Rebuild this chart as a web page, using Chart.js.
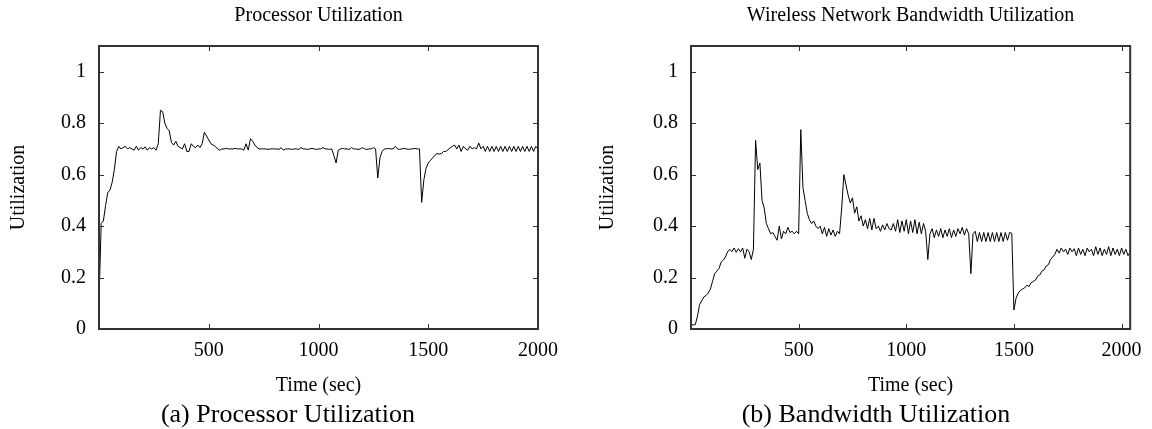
<!DOCTYPE html>
<html>
<head>
<meta charset="utf-8">
<title>Processor and Bandwidth Utilization</title>
<script src="https://cdn.jsdelivr.net/npm/chart.js@4.4.1/dist/chart.umd.min.js"></script>
<style>
  html, body { margin: 0; padding: 0; background: #fff; overflow: hidden; }
  #figure { position: relative; width: 1152px; height: 429px; font-family: 'Liberation Serif', 'Times New Roman', serif; }
  canvas { position: absolute; top: 0; }
  #cpuChart { left: 0; }
  #bwChart { left: 576px; }
  .caption { position: absolute; top: 399px; width: 400px; margin-left: -200px; text-align: center; font-size: 26px; line-height: 30px; color: #000; white-space: nowrap; }
</style>
</head>
<body>
<div id="figure">
  <canvas id="cpuChart" width="576" height="429"></canvas>
  <canvas id="bwChart" width="576" height="429"></canvas>
  <div class="caption" style="left:288px">(a) Processor Utilization</div>
  <div class="caption" style="left:876px">(b) Bandwidth Utilization</div>
</div>
<script>
const timeTicks = [0, 500, 1000, 1500, 2000];
const utilTicks = [0, 0.2, 0.4, 0.6, 0.8, 1];

const cpuTime = [
  0, 10, 20, 30, 40, 50, 60, 70, 80, 90,
  100, 110, 120, 130, 140, 150, 160, 170, 180, 190,
  200, 210, 220, 230, 240, 250, 260, 270, 280, 290,
  300, 310, 320, 330, 340, 350, 360, 370, 380, 390,
  400, 410, 420, 430, 440, 450, 460, 470, 480, 490,
  500, 510, 520, 530, 540, 550, 560, 570, 580, 590,
  600, 610, 620, 630, 640, 650, 660, 670, 680, 690,
  700, 710, 720, 730, 740, 750, 760, 770, 780, 790,
  800, 810, 820, 830, 840, 850, 860, 870, 880, 890,
  900, 910, 920, 930, 940, 950, 960, 970, 980, 990,
  1000, 1010, 1020, 1030, 1040, 1050, 1060, 1070, 1080, 1090,
  1100, 1110, 1120, 1130, 1140, 1150, 1160, 1170, 1180, 1190,
  1200, 1210, 1220, 1230, 1240, 1250, 1260, 1270, 1280, 1290,
  1300, 1310, 1320, 1330, 1340, 1350, 1360, 1370, 1380, 1390,
  1400, 1410, 1420, 1430, 1440, 1450, 1460, 1470, 1480, 1490,
  1500, 1510, 1520, 1530, 1540, 1550, 1560, 1570, 1580, 1590,
  1600, 1610, 1620, 1630, 1640, 1650, 1660, 1670, 1680, 1690,
  1700, 1710, 1720, 1730, 1740, 1750, 1760, 1770, 1780, 1790,
  1800, 1810, 1820, 1830, 1840, 1850, 1860, 1870, 1880, 1890,
  1900, 1910, 1920, 1930, 1940, 1950, 1960, 1970, 1980, 1990,
  2000
];
const cpuUtil = [
  0.11, 0.41, 0.42, 0.48, 0.53, 0.54, 0.57, 0.62, 0.69, 0.71,
  0.70, 0.705, 0.71, 0.70, 0.705, 0.70, 0.695, 0.71, 0.695, 0.705,
  0.70, 0.708, 0.695, 0.705, 0.70, 0.705, 0.695, 0.72, 0.85, 0.845,
  0.80, 0.78, 0.77, 0.725, 0.715, 0.73, 0.71, 0.705, 0.70, 0.72,
  0.69, 0.69, 0.72, 0.71, 0.705, 0.715, 0.705, 0.72, 0.765, 0.75,
  0.735, 0.72, 0.715, 0.71, 0.70, 0.695, 0.70, 0.70, 0.702, 0.70,
  0.70, 0.70, 0.702, 0.70, 0.70, 0.70, 0.695, 0.72, 0.695, 0.74,
  0.73, 0.715, 0.705, 0.70, 0.70, 0.70, 0.70, 0.698, 0.70, 0.70,
  0.70, 0.70, 0.698, 0.705, 0.695, 0.70, 0.70, 0.70, 0.698, 0.70,
  0.70, 0.698, 0.705, 0.70, 0.70, 0.698, 0.70, 0.702, 0.70, 0.698,
  0.70, 0.70, 0.705, 0.70, 0.70, 0.698, 0.70, 0.675, 0.645, 0.695,
  0.70, 0.702, 0.70, 0.70, 0.698, 0.705, 0.70, 0.70, 0.698, 0.70,
  0.705, 0.70, 0.698, 0.70, 0.70, 0.705, 0.70, 0.587, 0.665, 0.69,
  0.70, 0.70, 0.702, 0.70, 0.70, 0.71, 0.70, 0.698, 0.70, 0.702,
  0.70, 0.698, 0.70, 0.70, 0.702, 0.70, 0.70, 0.492, 0.58, 0.625,
  0.645, 0.655, 0.665, 0.675, 0.682, 0.68, 0.682, 0.69, 0.69, 0.697,
  0.705, 0.71, 0.715, 0.70, 0.715, 0.69, 0.71, 0.70, 0.695, 0.71,
  0.70, 0.705, 0.70, 0.723, 0.70, 0.71, 0.69, 0.71, 0.69, 0.71,
  0.69, 0.71, 0.69, 0.71, 0.69, 0.71, 0.69, 0.71, 0.69, 0.71,
  0.69, 0.71, 0.69, 0.71, 0.69, 0.71, 0.69, 0.71, 0.69, 0.71,
  0.70
];

const bwTime = [
  0, 10, 20, 30, 40, 50, 60, 70, 80, 90,
  100, 110, 120, 130, 140, 150, 160, 170, 180, 190,
  200, 210, 220, 230, 240, 250, 260, 270, 280, 290,
  300, 310, 320, 330, 340, 350, 360, 370, 380, 390,
  400, 410, 420, 430, 440, 450, 460, 470, 480, 490,
  500, 510, 520, 530, 540, 550, 560, 570, 580, 590,
  600, 610, 620, 630, 640, 650, 660, 670, 680, 690,
  700, 710, 720, 730, 740, 750, 760, 770, 780, 790,
  800, 810, 820, 830, 840, 850, 860, 870, 880, 890,
  900, 910, 920, 930, 940, 950, 960, 970, 980, 990,
  1000, 1010, 1020, 1030, 1040, 1050, 1060, 1070, 1080, 1090,
  1100, 1110, 1120, 1130, 1140, 1150, 1160, 1170, 1180, 1190,
  1200, 1210, 1220, 1230, 1240, 1250, 1260, 1270, 1280, 1290,
  1300, 1310, 1320, 1330, 1340, 1350, 1360, 1370, 1380, 1390,
  1400, 1410, 1420, 1430, 1440, 1450, 1460, 1470, 1480, 1490,
  1500, 1510, 1520, 1530, 1540, 1550, 1560, 1570, 1580, 1590,
  1600, 1610, 1620, 1630, 1640, 1650, 1660, 1670, 1680, 1690,
  1700, 1710, 1720, 1730, 1740, 1750, 1760, 1770, 1780, 1790,
  1800, 1810, 1820, 1830, 1840, 1850, 1860, 1870, 1880, 1890,
  1900, 1910, 1920, 1930, 1940, 1950, 1960, 1970, 1980, 1990,
  2000, 2010, 2020, 2030, 2040
];
const bwUtil = [
  0.016, 0.016, 0.017, 0.05, 0.095, 0.11, 0.125, 0.13, 0.14, 0.155,
  0.185, 0.215, 0.225, 0.235, 0.26, 0.268, 0.28, 0.30, 0.31, 0.30,
  0.315, 0.298, 0.312, 0.30, 0.315, 0.275, 0.31, 0.30, 0.27, 0.31,
  0.733, 0.62, 0.645, 0.50, 0.47, 0.41, 0.39, 0.37, 0.375, 0.36,
  0.345, 0.40, 0.35, 0.38, 0.37, 0.395, 0.375, 0.38, 0.37, 0.38,
  0.37, 0.775, 0.55, 0.50, 0.45, 0.425, 0.41, 0.42, 0.40, 0.39,
  0.40, 0.37, 0.395, 0.36, 0.39, 0.365, 0.385, 0.36, 0.38, 0.37,
  0.47, 0.60, 0.56, 0.52, 0.49, 0.51, 0.45, 0.475, 0.42, 0.44,
  0.40, 0.425, 0.39, 0.43, 0.385, 0.43, 0.39, 0.40, 0.38, 0.405,
  0.385, 0.41, 0.39, 0.385, 0.41, 0.38, 0.425, 0.375, 0.42, 0.38,
  0.425, 0.37, 0.42, 0.375, 0.425, 0.37, 0.415, 0.37, 0.41, 0.38,
  0.27, 0.37, 0.39, 0.355, 0.385, 0.36, 0.39, 0.355, 0.385, 0.36,
  0.39, 0.355, 0.385, 0.36, 0.39, 0.37, 0.395, 0.365, 0.39, 0.37,
  0.215, 0.37, 0.38, 0.34, 0.375, 0.34, 0.375, 0.34, 0.375, 0.34,
  0.375, 0.34, 0.375, 0.34, 0.375, 0.34, 0.375, 0.345, 0.375, 0.372,
  0.074, 0.12, 0.14, 0.15, 0.155, 0.16, 0.17, 0.165, 0.18, 0.185,
  0.19, 0.205, 0.21, 0.225, 0.23, 0.245, 0.25, 0.27, 0.28, 0.29,
  0.31, 0.295, 0.315, 0.30, 0.31, 0.29, 0.315, 0.30, 0.312, 0.285,
  0.315, 0.29, 0.31, 0.285, 0.315, 0.30, 0.31, 0.285, 0.32, 0.29,
  0.315, 0.285, 0.31, 0.29, 0.32, 0.285, 0.315, 0.29, 0.31, 0.285,
  0.315, 0.29, 0.31, 0.285, 0.30
];

Chart.defaults.font.family = "'Liberation Serif', 'Times New Roman', serif";
Chart.defaults.font.size = 20;
Chart.defaults.color = '#000';

// gnuplot style frame: box around the plot plus short inward ticks on all four sides
const frameTicks = {
  id: 'frameTicks',
  afterDatasetsDraw(chart) {
    const { ctx, chartArea: a } = chart;
    ctx.save();
    ctx.strokeStyle = '#333';
    ctx.lineWidth = 1;
    ctx.beginPath();
    Object.values(chart.scales).forEach(scale => {
      scale.ticks.forEach(t => {
        const p = Math.round(scale.getPixelForValue(t.value)) + 0.5;
        if (scale.position === 'bottom') { ctx.moveTo(p, a.bottom); ctx.lineTo(p, a.bottom - 5); }
        if (scale.position === 'top') { ctx.moveTo(p, a.top); ctx.lineTo(p, a.top + 5); }
        if (scale.position === 'left') { ctx.moveTo(a.left, p); ctx.lineTo(a.left + 5, p); }
        if (scale.position === 'right') { ctx.moveTo(a.right, p); ctx.lineTo(a.right - 5, p); }
      });
    });
    ctx.stroke();
    ctx.lineWidth = 2;
    ctx.strokeRect(a.left, a.top, a.right - a.left, a.bottom - a.top);
    ctx.restore();
  }
};

function useTicks(list) {
  return scale => { scale.ticks = list.map(v => ({ value: v })); };
}

function makeChart(id, title, times, values, xMax, leftWidth, rightWidth, yTitlePad) {
  const noGrid = { display: false, drawTicks: false };
  return new Chart(document.getElementById(id), {
    type: 'line',
    data: {
      datasets: [{
        data: times.map((t, i) => ({ x: t, y: values[i] })),
        borderColor: '#000',
        borderWidth: 1,
        pointRadius: 0,
        tension: 0,
        fill: false
      }]
    },
    options: {
      responsive: false,
      animation: false,
      layout: { padding: 0 },
      plugins: { legend: { display: false }, tooltip: { enabled: false } },
      scales: {
        x: {
          type: 'linear', position: 'bottom', min: 0, max: xMax,
          grid: noGrid, border: { display: false },
          afterBuildTicks: useTicks(timeTicks),
          ticks: { padding: 10, maxRotation: 0, autoSkip: false, callback: v => v === 0 ? '' : String(v) },
          title: { display: true, text: 'Time (sec)', padding: { top: 0, bottom: 31 } },
          afterFit: s => { s.height = 100; }
        },
        x2: {
          type: 'linear', position: 'top', min: 0, max: xMax,
          grid: noGrid, border: { display: false },
          afterBuildTicks: useTicks(timeTicks),
          ticks: { display: false },
          title: { display: true, text: title, padding: { top: 4, bottom: 0 } },
          afterFit: s => { s.height = 46; }
        },
        y: {
          type: 'linear', position: 'left', min: 0, max: 1.1,
          grid: noGrid, border: { display: false },
          afterBuildTicks: useTicks(utilTicks),
          ticks: { padding: 13, callback: v => String(v) },
          title: { display: true, text: 'Utilization', padding: { top: yTitlePad, bottom: 0 } },
          afterFit: s => { s.width = leftWidth; }
        },
        y2: {
          type: 'linear', position: 'right', min: 0, max: 1.1,
          grid: noGrid, border: { display: false },
          afterBuildTicks: useTicks(utilTicks),
          ticks: { display: false },
          afterFit: s => { s.width = rightWidth; }
        }
      }
    },
    plugins: [frameTicks]
  });
}

makeChart('cpuChart', 'Processor Utilization', cpuTime, cpuUtil, 2000, 99, 38, 7);
makeChart('bwChart', 'Wireless Network Bandwidth Utilization', bwTime, bwUtil, 2040, 115, 21, 20);
</script>
</body>
</html>
